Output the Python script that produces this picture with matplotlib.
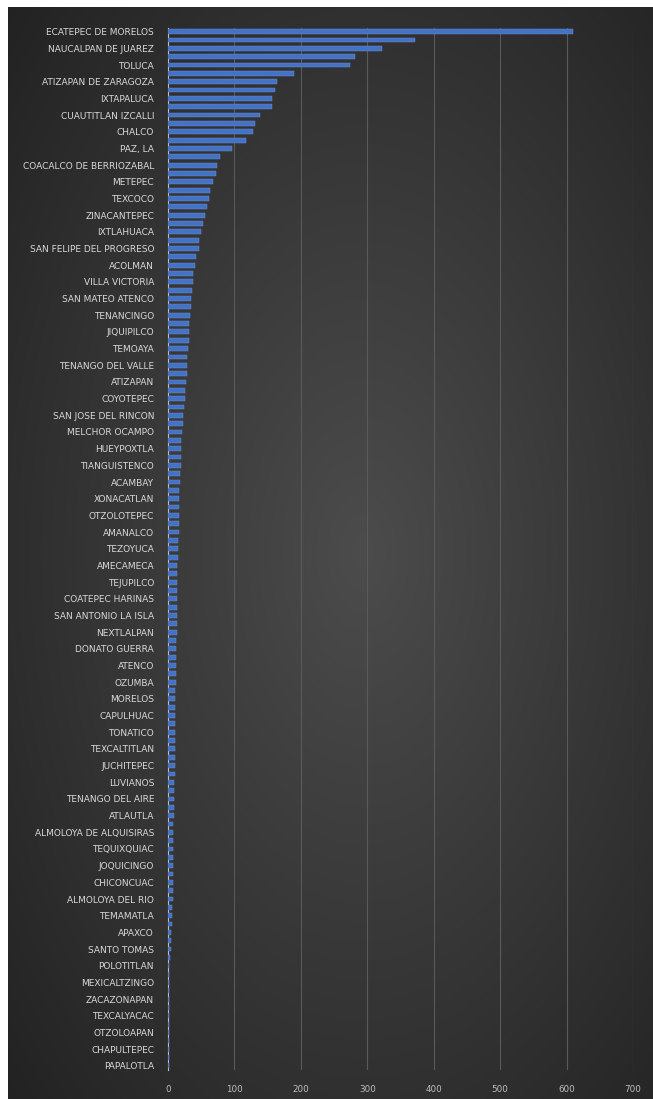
import numpy as np
import matplotlib
matplotlib.use("Agg")
import matplotlib.pyplot as plt

# Municipalities, sorted by count (descending)
municipios = [
    "ECATEPEC DE MORELOS", "NEZAHUALCOYOTL", "NAUCALPAN DE JUAREZ", "TLALNEPANTLA DE BAZ",
    "TOLUCA", "CHIMALHUACAN", "ATIZAPAN DE ZARAGOZA", "TULTITLAN",
    "IXTAPALUCA", "VALLE DE CHALCO SOLIDARIDAD", "CUAUTITLAN IZCALLI", "NICOLAS ROMERO",
    "CHALCO", "TECAMAC", "PAZ, LA", "HUIXQUILUCAN",
    "COACALCO DE BERRIOZABAL", "CHICOLOAPAN", "METEPEC", "ZUMPANGO",
    "TEXCOCO", "LERMA", "ZINACANTEPEC", "TULTEPEC",
    "IXTLAHUACA", "ALMOLOYA DE JUAREZ", "SAN FELIPE DEL PROGRESO", "TEOLOYUCAN",
    "ACOLMAN", "JILOTEPEC", "VILLA VICTORIA", "ATLACOMULCO",
    "SAN MATEO ATENCO", "HUEHUETOCA", "TENANCINGO", "TEPOTZOTLAN",
    "JIQUIPILCO", "OCOYOACAC", "TEMOAYA", "CALIMAYA",
    "TENANGO DEL VALLE", "TEMASCALCINGO", "ATIZAPAN", "JOCOTITLAN",
    "COYOTEPEC", "CUAUTITLAN", "SAN JOSE DEL RINCON", "VALLE DE BRAVO",
    "MELCHOR OCAMPO", "VILLA GUERRERO", "HUEYPOXTLA", "VILLA DEL CARBON",
    "TIANGUISTENCO", "TLALMANALCO", "ACAMBAY", "TEOTIHUACAN",
    "XONACATLAN", "OTUMBA", "OTZOLOTEPEC", "IXTAPAN DE LA SAL",
    "AMANALCO", "TEMASCALAPA", "TEZOYUCA", "ACULCO",
    "AMECAMECA", "ORO, EL", "TEJUPILCO", "VILLA DE ALLENDE",
    "COATEPEC HARINAS", "CHAPA DE MOTA", "SAN ANTONIO LA ISLA", "MALINALCO",
    "NEXTLALPAN", "OCUILAN", "DONATO GUERRA", "XALATLACO",
    "ATENCO", "JALTENCO", "OZUMBA", "TEPETLAOXTOC",
    "MORELOS", "CHIAUTLA", "CAPULHUAC", "SAN MARTIN DE LAS PIRAMIDES",
    "TONATICO", "AXAPUSCO", "TEXCALTITLAN", "TEPETLIXPA",
    "JUCHITEPEC", "AMATEPEC", "LUVIANOS", "TLATLAYA",
    "TENANGO DEL AIRE", "SULTEPEC", "ATLAUTLA", "TEMASCALTEPEC",
    "ALMOLOYA DE ALQUISIRAS", "RAYON", "TEQUIXQUIAC", "TONANITLA",
    "JOQUICINGO", "NOPALTEPEC", "CHICONCUAC", "COCOTITLAN",
    "ALMOLOYA DEL RIO", "AYAPANGO", "TEMAMATLA", "TIMILPAN",
    "APAXCO", "SOYANIQUILPAN DE JUAREZ", "SANTO TOMAS", "JILOTZINGO",
    "POLOTITLAN", "ISIDRO FABELA", "MEXICALTZINGO", "ZACUALPAN",
    "ZACAZONAPAN", "ZUMPAHUACAN", "TEXCALYACAC", "SAN SIMON DE GUERRERO",
    "OTZOLOAPAN", "ECATZINGO", "CHAPULTEPEC", "IXTAPAN DEL ORO",
    "PAPALOTLA",
]

casos = [
    610, 372, 322, 282, 274, 189, 164, 161, 157, 156,
    139, 131, 128, 117, 96, 78, 74, 73, 68, 63,
    62, 58, 56, 52, 49, 47, 46, 42, 41, 38,
    37, 36, 35, 34, 33, 32, 31, 31, 30, 29,
    29, 28, 27, 26, 25, 24, 23, 22, 21, 20,
    20, 19, 19, 18, 18, 17, 17, 17, 16, 16,
    16, 15, 15, 15, 14, 14, 14, 13, 13, 13,
    13, 13, 13, 12, 12, 12, 12, 12, 12, 11,
    11, 11, 11, 11, 11, 10, 10, 10, 10, 10,
    9, 9, 9, 9, 9, 8, 8, 8, 8, 8,
    8, 7, 7, 7, 7, 6, 6, 6, 5, 5,
    4, 3, 2, 2, 1, 1, 1, 1, 1, 1,
    1, 1, 1, 1, 1,
]

x_ticks = [0, 100, 200, 300, 400, 500, 600, 700]

W, H = 653, 1099
fig = plt.figure(figsize=(W / 100, H / 100), dpi=100)
fig.patch.set_facecolor("white")

# Dark chart area with a soft radial shading
bg = fig.add_axes([8 / W, 0, 1 - 8 / W, 1 - 7 / H])
bg.set_axis_off()
yy, xx = np.mgrid[0:1:400j, 0:1:240j]
r = np.sqrt(((xx - 0.55) / 0.75) ** 2 + ((yy - 0.5) / 0.75) ** 2)
shade = np.clip(1 - r, 0, 1)
c0 = np.array([0x22, 0x22, 0x22]) / 255
c1 = np.array([0x4c, 0x4c, 0x4c]) / 255
img = c0[None, None, :] + (c1 - c0)[None, None, :] * shade[:, :, None]
bg.imshow(img, aspect="auto", extent=[0, 1, 0, 1], interpolation="bilinear")
bg.set_xlim(0, 1)
bg.set_ylim(0, 1)

ax = fig.add_axes([168 / W, 1 - 1070 / H, (633 - 168) / W, (1070 - 27.5) / H])
ax.patch.set_alpha(0)

y = np.arange(len(municipios))
ax.barh(y, casos, height=0.58, color="#4472C4", edgecolor="#6f93dc", linewidth=0.3, zorder=3)

ax.set_xlim(0, 700)
ax.set_ylim(len(municipios) - 0.5, -0.5)
ax.set_xticks(x_ticks)
ax.set_xticklabels([str(v) for v in x_ticks])
ax.set_yticks(y[::2])
ax.set_yticklabels(municipios[::2])

ax.grid(axis="x", color="#5a5a5a", linewidth=0.8, zorder=0)
ax.grid(axis="y", visible=False)
for side in ["top", "right", "bottom"]:
    ax.spines[side].set_visible(False)
ax.spines["left"].set_color("#bfbfbf")
ax.spines["left"].set_linewidth(0.8)

ax.tick_params(axis="y", length=0, pad=10, labelsize=6.5, labelcolor="#d9d9d9")
ax.tick_params(axis="x", length=0, pad=11, labelsize=6.3, labelcolor="#bfbfbf")

fig.savefig("out.png", dpi=100, facecolor=fig.get_facecolor())
